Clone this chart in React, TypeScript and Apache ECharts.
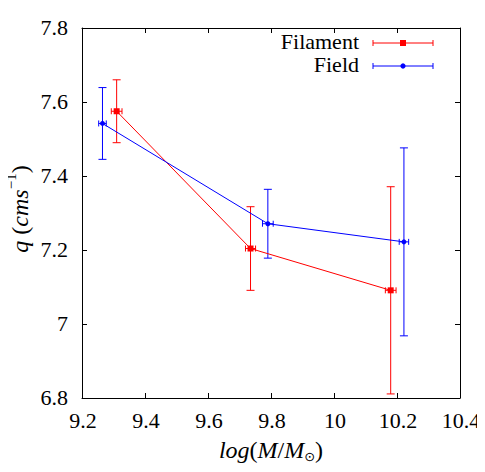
import React, { useEffect, useRef } from "react";
import * as echarts from "echarts";

const filamentX = [9.31, 9.735, 10.18];
const filamentY = [7.575, 7.204, 7.091];
const filamentXErr = [0.017, 0.016, 0.017];
const filamentYErr = [0.085, 0.113, 0.28];

const fieldX = [9.265, 9.79, 10.222];
const fieldY = [7.542, 7.271, 7.222];
const fieldXErr = [0.012, 0.017, 0.015];
const fieldYErr = [0.097, 0.093, 0.254];

const xTickLabels = ["9.2", "9.4", "9.6", "9.8", "10", "10.2", "10.4"];
const yTickLabels = ["6.8", "7", "7.2", "7.4", "7.6", "7.8"];
const legendNames = ["Filament", "Field"];

const RED = "#ff0000";
const BLUE = "#0000ff";
const FONT = "Liberation Serif";

const X_MIN = 9.2, X_MAX = 10.4, Y_MIN = 6.8, Y_MAX = 7.8, STEP = 0.2;

let ctx: CanvasRenderingContext2D | null = null;
function measure(text: string, size: number, italic: boolean, family: string) {
  if (!ctx) ctx = document.createElement("canvas").getContext("2d");
  if (!ctx) return text.length * size * 0.5;
  ctx.font = `${italic ? "italic " : ""}${size}px "${family}"`;
  return ctx.measureText(text).width;
}

type Part = { t: string; it?: boolean; size?: number; dy?: number; fam?: string };
function seq(parts: Part[], cx: number, cy: number, rotation: number) {
  const ws = parts.map((p) => measure(p.t, p.size || 24, !!p.it, p.fam || FONT));
  const W = ws.reduce((a, b) => a + b, 0);
  let acc = -W / 2;
  const children = parts.map((p, i) => {
    const style: any = {
      text: p.t,
      fontFamily: p.fam || FONT,
      fontSize: p.size || 24,
      fill: "#000",
      verticalAlign: "middle",
    };
    if (p.it) style.fontStyle = "italic";
    const el = { type: "text", x: acc, y: p.dy || 0, style };
    acc += ws[i];
    return el;
  });
  return { type: "group", x: cx, y: cy, rotation, children };
}

function makeErr(color: string) {
  return (params: any, api: any) => {
    const x = api.value(0);
    const y = api.value(1);
    const xe = api.value(2);
    const ye = api.value(3);
    const top = api.coord([x, y + ye]);
    const bot = api.coord([x, y - ye]);
    const lft = api.coord([x - xe, y]);
    const rgt = api.coord([x + xe, y]);
    const c = 4;
    const ch = 3;
    const style = { stroke: color, lineWidth: 1 };
    const ln = (x1: number, y1: number, x2: number, y2: number) => ({
      type: "line",
      shape: { x1, y1, x2, y2 },
      style,
    });
    return {
      type: "group",
      children: [
        ln(top[0], top[1], bot[0], bot[1]),
        ln(top[0] - c, top[1], top[0] + c, top[1]),
        ln(bot[0] - c, bot[1], bot[0] + c, bot[1]),
        ln(lft[0], lft[1], rgt[0], rgt[1]),
        ln(lft[0], lft[1] - ch, lft[0], lft[1] + ch),
        ln(rgt[0], rgt[1] - ch, rgt[0], rgt[1] + ch),
      ],
    };
  };
}

function legendEntry(name: string, color: string, marker: "rect" | "circle", y: number) {
  const x0 = 373, x1 = 433, xm = 403;
  const st = { stroke: color, lineWidth: 1 };
  return [
    {
      type: "text",
      x: 359,
      y,
      style: { text: name, fontFamily: FONT, fontSize: 22, fill: "#000", align: "right", verticalAlign: "middle" },
    },
    { type: "line", shape: { x1: x0, y1: y + 2, x2: x1, y2: y + 2 }, style: st },
    { type: "line", shape: { x1: x0, y1: y - 1, x2: x0, y2: y + 5 }, style: st },
    { type: "line", shape: { x1: x1, y1: y - 1, x2: x1, y2: y + 5 }, style: st },
    marker === "rect"
      ? { type: "rect", shape: { x: xm - 3, y: y - 1, width: 6, height: 6 }, style: { fill: color } }
      : { type: "circle", shape: { cx: xm, cy: y + 2, r: 2.6 }, style: { fill: color } },
  ];
}

export default function App() {
  const ref = useRef<HTMLDivElement>(null);
  useEffect(() => {
    if (!ref.current) return;
    const chart = echarts.init(ref.current, null, { renderer: "svg" });
    const filData = filamentX.map((x, i) => [x, filamentY[i]]);
    const fieData = fieldX.map((x, i) => [x, fieldY[i]]);
    const filErr = filamentX.map((x, i) => [x, filamentY[i], filamentXErr[i], filamentYErr[i]]);
    const fieErr = fieldX.map((x, i) => [x, fieldY[i], fieldXErr[i], fieldYErr[i]]);
    const axisCommon = {
      type: "value",
      splitLine: { show: false },
      axisLine: { show: true, lineStyle: { color: "#000", width: 1 } },
      axisTick: { show: true, inside: true, length: 5, lineStyle: { color: "#000" } },
      axisLabel: { show: false },
    };
    chart.setOption({
      animation: false,
      backgroundColor: "#fff",
      grid: { left: 82, right: 25, top: 28, bottom: 74, containLabel: false },
      xAxis: [
        { ...axisCommon, min: X_MIN, max: X_MAX, interval: STEP },
        { ...axisCommon, position: "top", min: X_MIN, max: X_MAX, interval: STEP },
      ],
      yAxis: [
        { ...axisCommon, min: Y_MIN, max: Y_MAX, interval: STEP },
        { ...axisCommon, position: "right", min: Y_MIN, max: Y_MAX, interval: STEP },
      ],
      series: [
        {
          name: legendNames[0],
          type: "line",
          data: filData,
          color: RED,
          lineStyle: { color: RED, width: 1 },
          symbol: "rect",
          symbolSize: 6,
          itemStyle: { color: RED },
          z: 3,
        },
        {
          name: legendNames[1],
          type: "line",
          data: fieData,
          color: BLUE,
          lineStyle: { color: BLUE, width: 1 },
          symbol: "circle",
          symbolSize: 5,
          itemStyle: { color: BLUE },
          z: 3,
        },
        {
          name: "FilamentErr",
          type: "custom",
          renderItem: makeErr(RED),
          data: filErr,
          encode: { x: 0, y: 1 },
          z: 2,
        },
        {
          name: "FieldErr",
          type: "custom",
          renderItem: makeErr(BLUE),
          data: fieErr,
          encode: { x: 0, y: 1 },
          z: 2,
        },
      ],
    } as any);
    const px = (x: number, y: number) => chart.convertToPixel({ gridIndex: 0 }, [x, y]) as number[];

    const g: any[] = [];
    xTickLabels.forEach((l) => {
      const [x, y] = px(parseFloat(l), Y_MIN);
      g.push({
        type: "text",
        x: x + 1,
        y: y + 22,
        style: { text: l, fontFamily: FONT, fontSize: 22, fill: "#000", align: "center", verticalAlign: "middle" },
      });
    });
    yTickLabels.forEach((l) => {
      const [x, y] = px(X_MIN, parseFloat(l));
      g.push({
        type: "text",
        x: x - 14,
        y: y - 1,
        style: { text: l, fontFamily: FONT, fontSize: 22, fill: "#000", align: "right", verticalAlign: "middle" },
      });
    });
    const [xc, yb] = px((X_MIN + X_MAX) / 2, Y_MIN);
    g.push(
      seq(
        [
          { t: "log", it: true },
          { t: "(" },
          { t: "M", it: true },
          { t: "/" },
          { t: "M", it: true },
          { t: "⊙", size: 13, dy: 6, fam: "DejaVu Sans" },
          { t: ")" },
        ],
        xc,
        yb + 52,
        0
      )
    );
    const [xl, yc] = px(X_MIN, (Y_MIN + Y_MAX) / 2);
    g.push(
      seq(
        [
          { t: "q", it: true },
          { t: " (" },
          { t: "cms", it: true },
          { t: "−1", size: 15, dy: -9 },
          { t: ")" },
        ],
        xl - 62,
        yc - 4,
        Math.PI / 2
      )
    );
    g.push(...legendEntry(legendNames[0], RED, "rect", 41));
    g.push(...legendEntry(legendNames[1], BLUE, "circle", 64));
    chart.setOption({ graphic: g });
    return () => chart.dispose();
  }, []);
  return (
    <div style={{ margin: -8, fontFamily: FONT }}>
      <div ref={ref} style={{ width: 485, height: 472 }} />
    </div>
  );
}
